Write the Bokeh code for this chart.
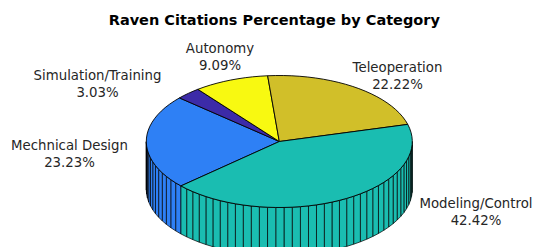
import math
import numpy as np
from bokeh.plotting import figure
from bokeh.models import Range1d, ColumnDataSource
from bokeh.embed import file_html
from bokeh.resources import INLINE
from bokeh.core.properties import value

# ---- data ----
categories = ["Mechnical Design", "Simulation/Training", "Autonomy", "Teleoperation", "Modeling/Control"]
percentages = [23.23, 3.03, 9.09, 22.22, 42.42]
pct_labels = ["23.23%", "3.03%", "9.09%", "22.22%", "42.42%"]
title_text = "Raven Citations Percentage by Category"

# ---- style / layout ----
colors = ["#2E80F5", "#3C2BA8", "#F8F911", "#D1BF29", "#1ABDB1"]
W, H = 533, 247
CX, CY, RX, RY, DEPTH = 278.8, 141.0, 133.0, 66.0, 48.0
START = 222.3
label_xy = [(69, 153.5), (97, 83.5), (219.5, 56.5), (397, 75.5), (475.5, 211)]
LINE_GAP = 17.0

p = figure(width=W, height=H, x_range=Range1d(0, W), y_range=Range1d(H, 0),
           output_backend="svg", toolbar_location=None,
           x_axis_type=None, y_axis_type=None, min_border=0)
p.grid.visible = False
p.outline_line_color = None
p.background_fill_color = "white"
p.border_fill_color = "white"

total = sum(percentages)
side_xs, side_ys, side_c = [], [], []
top_xs, top_ys, top_c = [], [], []


def ex(a):
    return CX + RX * math.cos(math.radians(a))


def ey(a):
    return CY - RY * math.sin(math.radians(a))


a = START
for i, pct in enumerate(percentages):
    frac = pct / total
    span = 360.0 * frac
    n = max(1, math.ceil(100 * frac - 1e-9))
    edges = np.linspace(a, a - span, n + 1)
    for j in range(n):
        hi, lo = edges[j], edges[j + 1]
        for L, U in [(-180.0, 0.0), (180.0, 360.0)]:
            h = min(hi, U)
            l = max(lo, L)
            if h > l:
                x1, y1, x2, y2 = ex(h), ey(h), ex(l), ey(l)
                side_xs.append([x1, x2, x2, x1])
                side_ys.append([y1, y2, y2 + DEPTH, y1 + DEPTH])
                side_c.append(colors[i])
    top_xs.append([CX] + [ex(e) for e in edges])
    top_ys.append([CY] + [ey(e) for e in edges])
    top_c.append(colors[i])
    a -= span

p.patches(xs="xs", ys="ys", fill_color="c", line_color="black", line_width=0.7,
          source=ColumnDataSource(dict(xs=side_xs, ys=side_ys, c=side_c)))
p.patches(xs="xs", ys="ys", fill_color="c", line_color="black", line_width=0.9,
          source=ColumnDataSource(dict(xs=top_xs, ys=top_ys, c=top_c)))

lab = ColumnDataSource(dict(
    x=[q[0] for q in label_xy] * 2,
    y=[q[1] - LINE_GAP / 2 for q in label_xy] + [q[1] + LINE_GAP / 2 for q in label_xy],
    t=categories + pct_labels))
p.text(x="x", y="y", text="t", source=lab, text_font=value("DejaVu Sans"),
       text_font_size="13.3px", text_align="center", text_baseline="middle",
       text_color="#262626")

p.text(x=[273.8], y=[19], text=[title_text], text_font=value("DejaVu Sans"),
       text_font_size="14.5px", text_font_style="bold", text_align="center",
       text_baseline="middle", text_color="black")

open("out.html", "w").write(file_html(p, INLINE))
